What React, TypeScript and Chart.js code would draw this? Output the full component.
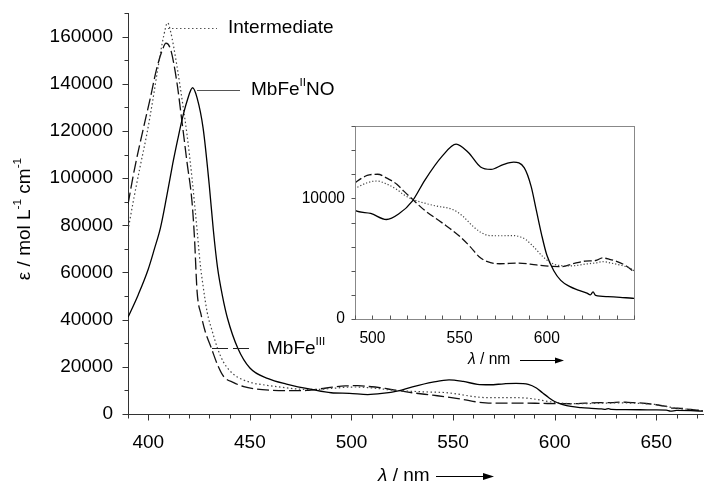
import React, { useEffect, useRef } from 'react';
import { Chart, registerables } from 'chart.js';

Chart.register(...registerables);

// ---- data ----
const nitrosylWl = [390, 395, 400, 403, 406, 409, 412, 414.5, 416.5, 419, 421.8, 424, 427, 430, 432, 434, 436.5, 439, 444, 450, 459, 468, 481, 490, 499, 508, 515, 523, 530, 540, 548, 555, 562, 568, 575, 581, 587, 591, 594, 597, 600, 604, 608, 613, 618, 623, 625, 626.5, 628, 635, 642, 649, 655, 657, 660, 667, 673];
const nitrosylEps = [41000, 50500, 61500, 70000, 79000, 92000, 106000, 116500, 124400, 132500, 138300, 134000, 121000, 97000, 78000, 62500, 50000, 40500, 28000, 19500, 15000, 12700, 10300, 9000, 8750, 8250, 8700, 9800, 11500, 13500, 14500, 13800, 12600, 12400, 12800, 13000, 12550, 11000, 9000, 7000, 5300, 4000, 3200, 2700, 2400, 2150, 2000, 2250, 1950, 1850, 1800, 1720, 1600, 1200, 1500, 1400, 1200];

const metWl = [390, 393, 397.7, 401, 404, 407, 408.7, 411, 414, 416.5, 419, 421.5, 422.7, 424, 426, 428, 431, 434, 437, 442, 447, 452, 460, 470, 478, 485, 491, 497, 503, 508, 514, 518, 523, 530, 540, 550, 556, 561, 566, 573, 584, 594, 603, 609, 615, 622, 628, 632, 636, 640, 645, 649, 655, 658, 662, 667, 673];
const metEps = [88900, 103000, 121600, 134000, 146000, 154500, 157200, 154500, 141000, 124400, 107000, 90000, 75000, 52000, 42000, 35000, 28000, 21000, 16000, 13300, 11600, 10700, 10100, 9900, 10000, 10700, 11400, 11900, 12000, 11700, 11170, 10600, 9920, 9000, 7970, 6860, 6000, 5190, 4750, 4580, 4640, 4480, 4360, 4350, 4580, 4800, 4850, 5060, 4950, 4780, 4450, 4030, 3200, 2500, 2400, 1900, 1400];

const interWl = [390, 393, 396, 399.3, 402, 405, 407.5, 409.5, 411, 414, 417, 419, 421.5, 424, 425.5, 427, 429, 431.5, 434, 437, 442, 450, 458, 466, 475, 483, 491, 497, 502.4, 508, 513.8, 518, 523, 530, 536.7, 546, 552, 557.6, 562, 567, 574, 580.5, 585, 588, 593, 597.6, 602, 607, 614.7, 622, 628, 632, 638, 644, 649, 655, 660, 667, 673];
const interEps = [77900, 92000, 105000, 118800, 132000, 148000, 160000, 165800, 162000, 148000, 131000, 118800, 100000, 78000, 64000, 54000, 43000, 35000, 28000, 22000, 16800, 13500, 12200, 11300, 10500, 10400, 10900, 11300, 11440, 11200, 10750, 10300, 9920, 9600, 9360, 9080, 8500, 7690, 7200, 6920, 6900, 6920, 6800, 6580, 5900, 5190, 4700, 4440, 4410, 4550, 4650, 4750, 4600, 4400, 4110, 3200, 2400, 1900, 1400];

const mainXRange = [390, 673];
const mainYRange = [0, 170000];
const insetXRange = [490, 650];
const insetYRange = [0, 16000];

const FONT = '"Liberation Sans", Arial, Helvetica, sans-serif';

type Part = { t: string; sup?: boolean; italic?: boolean };

function drawRich(ctx: CanvasRenderingContext2D, parts: Part[], x: number, y: number, size: number, align: 'left' | 'center') {
  const fontOf = (p: Part) => `${p.italic ? 'italic ' : ''}${p.sup ? size * 0.62 : size}px ${FONT}`;
  let total = 0;
  for (const p of parts) { ctx.font = fontOf(p); total += ctx.measureText(p.t).width; }
  let cx = align === 'center' ? x - total / 2 : x;
  ctx.textBaseline = 'middle';
  ctx.textAlign = 'left';
  for (const p of parts) {
    ctx.font = fontOf(p);
    ctx.fillText(p.t, cx, p.sup ? y - size * 0.4 : y);
    cx += ctx.measureText(p.t).width;
  }
}

function drawArrow(ctx: CanvasRenderingContext2D, x0: number, x1: number, y: number, head: number, half: number) {
  ctx.beginPath();
  ctx.moveTo(x0, y + 0.5); ctx.lineTo(x1 - head, y + 0.5);
  ctx.stroke();
  ctx.beginPath();
  ctx.moveTo(x1, y + 0.5); ctx.lineTo(x1 - head, y + 0.5 - half); ctx.lineTo(x1 - head, y + 0.5 + half); ctx.closePath();
  ctx.fill();
}

function drawTicks(chart: any, xMajor: number, yMajor: number, xInside: boolean, majorLen: number, minorLen: number, color: string) {
  const { ctx, chartArea, scales } = chart;
  ctx.save();
  ctx.strokeStyle = color;
  ctx.lineWidth = 1;
  ctx.beginPath();
  const xs = scales.x;
  const yb = Math.round(chartArea.bottom) + 0.5;
  for (const t of xs.ticks) {
    const px = Math.round(xs.getPixelForValue(t.value)) + 0.5;
    const len = t.value % xMajor === 0 ? majorLen : minorLen;
    ctx.moveTo(px, yb); ctx.lineTo(px, xInside ? yb - len : yb + len);
  }
  const ys = scales.y;
  const xl = Math.round(chartArea.left) + 0.5;
  for (const t of ys.ticks) {
    const py = Math.round(ys.getPixelForValue(t.value)) + 0.5;
    const len = t.value % yMajor === 0 ? majorLen : minorLen;
    ctx.moveTo(xl, py); ctx.lineTo(xl - len, py);
  }
  ctx.stroke();
  ctx.restore();
}

function toPoints(wl: number[], eps: number[]) {
  return wl.map((x, i) => ({ x, y: eps[i] }));
}

function datasets(dash: number[], dot: number[]) {
  return [
    { label: 'MbFeIINO', data: toPoints(nitrosylWl, nitrosylEps), borderColor: '#000', borderWidth: 1.3, pointRadius: 0, cubicInterpolationMode: 'monotone' as const },
    { label: 'Intermediate', data: toPoints(interWl, interEps), borderColor: '#444', borderWidth: 1.2, borderDash: dot, pointRadius: 0, cubicInterpolationMode: 'monotone' as const },
    { label: 'MbFeIII', data: toPoints(metWl, metEps), borderColor: '#111', borderWidth: 1.3, borderDash: dash, pointRadius: 0, cubicInterpolationMode: 'monotone' as const },
  ];
}

const mainDecor = {
  id: 'mainDecor',
  afterDraw(chart: any) {
    const { ctx } = chart;
    drawTicks(chart, 50, 20000, false, 6, 4, '#333');
    ctx.save();
    ctx.fillStyle = '#000';
    ctx.strokeStyle = '#000';
    ctx.lineWidth = 1;
    // y title
    ctx.save();
    ctx.translate(25, 219);
    ctx.rotate(-Math.PI / 2);
    drawRich(ctx, [{ t: 'ε / mol L' }, { t: '-1', sup: true }, { t: ' cm' }, { t: '-1', sup: true }], 0, 0, 19, 'center');
    ctx.restore();
    // x title
    drawRich(ctx, [{ t: 'λ', italic: true }, { t: ' / nm' }], 378, 476, 19, 'left');
    drawArrow(ctx, 436, 494, 476, 11, 3.5);
    // annotations
    drawRich(ctx, [{ t: 'Intermediate' }], 228, 28, 19, 'left');
    drawRich(ctx, [{ t: 'MbFe' }, { t: 'II', sup: true }, { t: 'NO' }], 251, 90, 19, 'left');
    drawRich(ctx, [{ t: 'MbFe' }, { t: 'III', sup: true }], 267, 349, 19, 'left');
    // leaders
    ctx.strokeStyle = '#555';
    ctx.setLineDash([1.5, 2.5]);
    ctx.beginPath(); ctx.moveTo(168, 28.5); ctx.lineTo(217, 28.5); ctx.stroke();
    ctx.setLineDash([]);
    ctx.beginPath(); ctx.moveTo(197, 90.5); ctx.lineTo(240, 90.5); ctx.stroke();
    ctx.strokeStyle = '#222';
    ctx.setLineDash([16, 5]);
    ctx.beginPath(); ctx.moveTo(212, 348.5); ctx.lineTo(252, 348.5); ctx.stroke();
    ctx.restore();
  },
};

const insetDecor = {
  id: 'insetDecor',
  afterDraw(chart: any) {
    const { ctx, chartArea } = chart;
    ctx.save();
    ctx.strokeStyle = '#888';
    ctx.lineWidth = 1;
    ctx.strokeRect(Math.round(chartArea.left) + 0.5, Math.round(chartArea.top) + 0.5, Math.round(chartArea.right - chartArea.left), Math.round(chartArea.bottom - chartArea.top));
    ctx.restore();
    drawTicks(chart, 50, 10000, true, 4, 4, '#555');
    ctx.save();
    ctx.fillStyle = '#000';
    ctx.strokeStyle = '#000';
    drawRich(ctx, [{ t: 'λ', italic: true }, { t: ' / nm' }], 168, 250, 15.6, 'left');
    drawArrow(ctx, 220, 264, 250, 9, 3);
    ctx.restore();
  },
};

export default function App() {
  const mainRef = useRef<HTMLCanvasElement>(null);
  const insetRef = useRef<HTMLCanvasElement>(null);

  useEffect(() => {
    const main = new Chart(mainRef.current!, {
      type: 'line',
      data: { datasets: datasets([12, 4], [1.5, 2.5]) as any },
      options: {
        animation: false,
        responsive: false,
        layout: { padding: { top: 13, right: 1, left: 0, bottom: 0 } },
        plugins: { legend: { display: false }, tooltip: { enabled: false } },
        scales: {
          x: {
            type: 'linear', min: mainXRange[0], max: mainXRange[1],
            afterFit: (s: any) => { s.height = 69; s.paddingLeft = 0; s.paddingRight = 0; },
            grid: { display: false, drawTicks: false },
            border: { display: true, color: '#333', width: 1 },
            ticks: {
              stepSize: 10, autoSkip: false, maxRotation: 0, includeBounds: false, padding: 17, color: '#000',
              font: { family: FONT, size: 19 },
              callback: (v: any) => (Number(v) % 50 === 0 ? String(v) : ''),
            },
          },
          y: {
            type: 'linear', min: mainYRange[0], max: mainYRange[1],
            afterFit: (s: any) => { s.width = 128; s.paddingTop = 0; s.paddingBottom = 0; },
            grid: { display: false, drawTicks: false },
            border: { display: true, color: '#333', width: 1 },
            ticks: {
              stepSize: 10000, autoSkip: false, padding: 15, color: '#000',
              font: { family: FONT, size: 19 },
              callback: (v: any) => (Number(v) % 20000 === 0 ? String(v) : ''),
            },
          },
        },
      },
      plugins: [mainDecor],
    });

    const inset = new Chart(insetRef.current!, {
      type: 'line',
      data: { datasets: datasets([8, 3], [1.2, 2]) as any },
      options: {
        animation: false,
        responsive: false,
        layout: { padding: { top: 16, right: 16, left: 0, bottom: 0 } },
        plugins: { legend: { display: false }, tooltip: { enabled: false } },
        scales: {
          x: {
            type: 'linear', min: insetXRange[0], max: insetXRange[1],
            afterFit: (s: any) => { s.height = 61; s.paddingLeft = 0; s.paddingRight = 0; },
            grid: { display: false, drawTicks: false },
            border: { display: false },
            ticks: {
              stepSize: 10, autoSkip: false, maxRotation: 0, includeBounds: false, padding: 10, color: '#000',
              font: { family: FONT, size: 15.6 },
              callback: (v: any) => (Number(v) % 50 === 0 && Number(v) < 650 ? String(v) : ''),
            },
          },
          y: {
            type: 'linear', min: insetYRange[0], max: insetYRange[1],
            afterFit: (s: any) => { s.width = 55; s.paddingTop = 0; s.paddingBottom = 0; },
            grid: { display: false, drawTicks: false },
            border: { display: false },
            ticks: {
              stepSize: 2000, autoSkip: false, padding: 10, color: '#000',
              font: { family: FONT, size: 15.6 },
              callback: (v: any) => (Number(v) % 10000 === 0 ? String(v) : ''),
            },
          },
        },
      },
      plugins: [insetDecor],
    });

    return () => { main.destroy(); inset.destroy(); };
  }, []);

  return (
    <div style={{ position: 'fixed', left: 0, top: 0, width: 704, height: 483, background: '#fff' }}>
      <canvas ref={mainRef} width={704} height={483} style={{ position: 'absolute', left: 0, top: 0 }} />
      <canvas ref={insetRef} width={350} height={270} style={{ position: 'absolute', left: 300, top: 110 }} />
    </div>
  );
}
